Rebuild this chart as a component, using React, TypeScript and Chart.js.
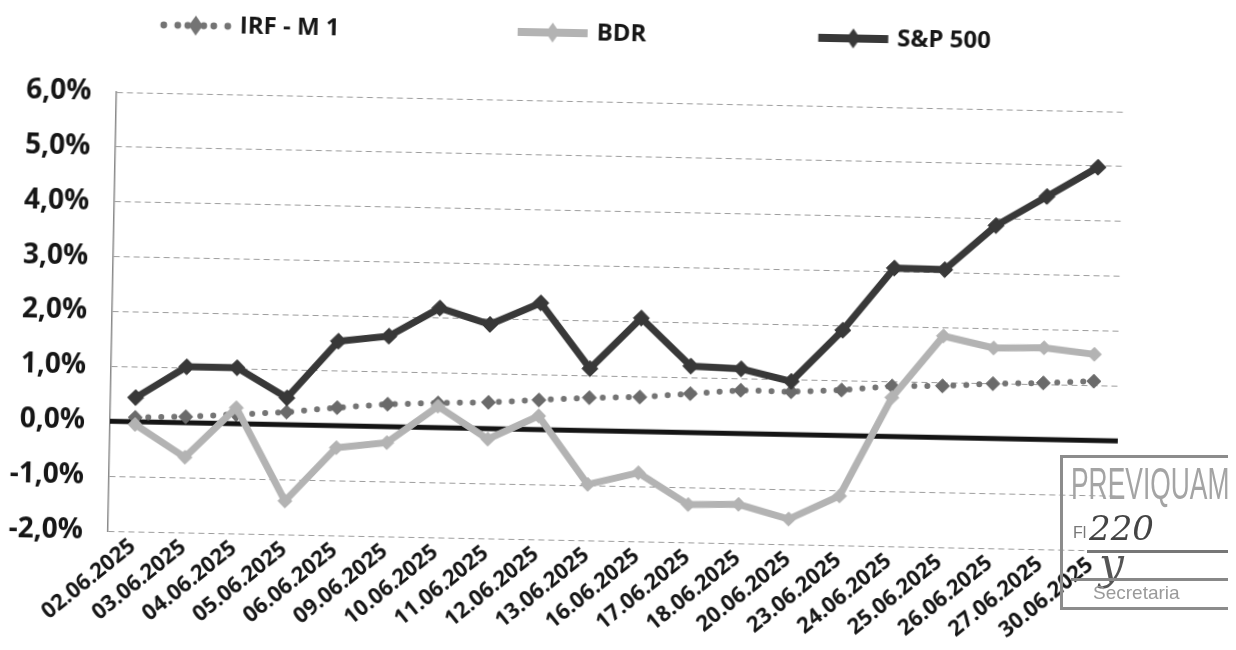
import React, { useEffect, useRef } from 'react';
import { Chart, registerables } from 'chart.js';

Chart.register(...registerables);

// ---------- data (cumulative % in June 2025) ----------
const CATEGORIES = [
  '02.06.2025', '03.06.2025', '04.06.2025', '05.06.2025', '06.06.2025',
  '09.06.2025', '10.06.2025', '11.06.2025', '12.06.2025', '13.06.2025',
  '16.06.2025', '17.06.2025', '18.06.2025', '20.06.2025', '23.06.2025',
  '24.06.2025', '25.06.2025', '26.06.2025', '27.06.2025', '30.06.2025',
];
const IRF_M1 = [0.08, 0.11, 0.17, 0.23, 0.33, 0.41, 0.45, 0.48, 0.54, 0.60, 0.63, 0.71, 0.79, 0.78, 0.83, 0.92, 0.94, 1.0, 1.03, 1.08];
const BDR = [-0.05, -0.63, 0.29, -1.39, -0.4, -0.29, 0.39, -0.19, 0.25, -0.98, -0.75, -1.31, -1.29, -1.54, -1.1, 0.71, 1.85, 1.65, 1.67, 1.57];
const SP500 = [0.44, 1.02, 1.02, 0.49, 1.54, 1.65, 2.18, 1.9, 2.31, 1.13, 2.07, 1.21, 1.18, 0.97, 1.92, 3.07, 3.06, 3.88, 4.43, 4.98];
const SERIES_LABELS = ['IRF - M 1', 'BDR', 'S&P 500'];
const Y_MIN = -2;
const Y_MAX = 6;
const Y_STEP = 1;

// ---------- styles ----------
const FONT = "'Open Sans', 'DejaVu Sans', sans-serif";
const TEXT = '#161616';
const IRF_COLOR = '#747474';
const BDR_COLOR = '#b3b3b3';
const SP_COLOR = '#383838';
const LEGEND_BOX_WIDTH = 200;
const LEGEND_SYMBOL_WIDTH = 72;
const LEGEND_TRAILING_SPACES = [5, 4, 0];
const LEGEND_EXTRA_HEIGHT = 46;
const Y_AXIS_WIDTH = 104;

function makeSymbol(kind: string, color: string): HTMLCanvasElement {
  const c = document.createElement('canvas');
  c.width = LEGEND_BOX_WIDTH + 8;
  c.height = 22;
  const g = c.getContext('2d')!;
  g.fillStyle = color;
  g.strokeStyle = color;
  const x0 = c.width - LEGEND_SYMBOL_WIDTH;
  const cy = 11;
  const cx = x0 + LEGEND_SYMBOL_WIDTH / 2;
  if (kind === 'dots') {
    for (const dx of [4, 18, 28, 44, 54, 68]) {
      g.beginPath();
      g.arc(x0 + dx, cy, 3.4, 0, Math.PI * 2);
      g.fill();
    }
  } else {
    g.lineWidth = 8;
    g.beginPath();
    g.moveTo(x0 + 1, cy);
    g.lineTo(x0 + LEGEND_SYMBOL_WIDTH - 1, cy);
    g.stroke();
  }
  g.beginPath();
  g.moveTo(cx, cy - 10);
  g.lineTo(cx + 7, cy);
  g.lineTo(cx, cy + 10);
  g.lineTo(cx - 7, cy);
  g.closePath();
  g.fill();
  return c;
}

const zeroLine = {
  id: 'zeroLine',
  beforeDatasetsDraw(chart: any) {
    const { ctx, chartArea, scales } = chart;
    const y = scales.y.getPixelForValue(0);
    ctx.save();
    ctx.strokeStyle = '#141414';
    ctx.lineWidth = 5;
    ctx.beginPath();
    ctx.moveTo(chartArea.left, y);
    ctx.lineTo(chartArea.right, y);
    ctx.stroke();
    ctx.restore();
  },
};

const legendSpacer = {
  id: 'legendSpacer',
  beforeLayout(chart: any) {
    const lg = chart.legend;
    if (lg && !lg._spacerPatched) {
      const orig = lg.fit;
      lg.fit = function fit() {
        orig.call(this);
        this.height += LEGEND_EXTRA_HEIGHT;
      };
      lg._spacerPatched = true;
    }
  },
};

export default function App() {
  const ref = useRef<HTMLCanvasElement | null>(null);

  useEffect(() => {
    if (!ref.current) return;
    const symbols = [
      makeSymbol('dots', IRF_COLOR),
      makeSymbol('line', BDR_COLOR),
      makeSymbol('line', SP_COLOR),
    ];
    const nbsp = '\u00A0';
    const chart = new Chart(ref.current, {
      type: 'line',
      data: {
        labels: CATEGORIES,
        datasets: [
          {
            label: SERIES_LABELS[0],
            data: IRF_M1,
            order: 3,
            borderColor: IRF_COLOR,
            borderWidth: 6,
            borderDash: [0, 13],
            borderCapStyle: 'round',
            pointStyle: 'rectRot',
            pointRadius: 7,
            pointBackgroundColor: '#6a6a6a',
            pointBorderColor: '#6a6a6a',
            pointBorderWidth: 1,
            tension: 0,
          },
          {
            label: SERIES_LABELS[1],
            data: BDR,
            order: 2,
            borderColor: BDR_COLOR,
            borderWidth: 7,
            pointStyle: 'rectRot',
            pointRadius: 7,
            pointBackgroundColor: BDR_COLOR,
            pointBorderColor: BDR_COLOR,
            pointBorderWidth: 1,
            tension: 0,
          },
          {
            label: SERIES_LABELS[2],
            data: SP500,
            order: 1,
            borderColor: SP_COLOR,
            borderWidth: 7,
            pointStyle: 'rectRot',
            pointRadius: 8,
            pointBackgroundColor: SP_COLOR,
            pointBorderColor: SP_COLOR,
            pointBorderWidth: 1,
            tension: 0,
          },
        ],
      },
      options: {
        responsive: false,
        animation: false,
        layout: { padding: { left: 0, right: 116, top: 0, bottom: 4 } },
        plugins: {
          tooltip: { enabled: false },
          legend: {
            position: 'top',
            align: 'start',
            labels: {
              usePointStyle: true,
              pointStyleWidth: LEGEND_BOX_WIDTH,
              padding: 14,
              color: TEXT,
              font: { family: FONT, size: 24, weight: 'bold' },
              generateLabels: (ch: any) => {
                const items = Chart.defaults.plugins.legend.labels.generateLabels(ch);
                items.sort((a: any, b: any) => a.datasetIndex - b.datasetIndex);
                return items.map((it: any) => ({
                  ...it,
                  pointStyle: symbols[it.datasetIndex],
                  text: it.text + nbsp.repeat(LEGEND_TRAILING_SPACES[it.datasetIndex] || 0),
                }));
              },
            },
          },
        },
        scales: {
          x: {
            offset: true,
            grid: { display: false, drawTicks: false },
            border: { display: false },
            ticks: {
              autoSkip: false,
              maxRotation: 40,
              minRotation: 40,
              padding: 2,
              color: TEXT,
              font: { family: FONT, size: 22, weight: 'bold' },
            },
          },
          y: {
            min: Y_MIN,
            max: Y_MAX,
            afterFit: (scale: any) => {
              scale.width = Y_AXIS_WIDTH;
            },
            grid: {
              drawTicks: false,
              lineWidth: 1,
              color: (c: any) => (c.tick && c.tick.value === 0 ? 'rgba(0,0,0,0)' : '#9c9c9c'),
            },
            border: { display: true, color: '#8a8a8a', width: 1.5, dash: [6, 4] },
            ticks: {
              stepSize: Y_STEP,
              padding: 25,
              color: TEXT,
              font: { family: FONT, size: 28, weight: 'bold' },
              callback: (v: any) => Number(v).toFixed(1).replace('.', ',') + '%',
            },
          },
        },
      },
      plugins: [zeroLine, legendSpacer],
    } as any);
    return () => chart.destroy();
  }, []);

  return (
    <div style={{ position: 'relative', width: 1228, height: 634, overflow: 'hidden', background: '#fff' }}>
      <div style={{ position: 'absolute', left: 0, top: 0, width: 1228, height: 634, transform: 'rotate(1.12deg)' }}>
        <canvas ref={ref} width={1228} height={634} />
      </div>
      <div
        style={{
          position: 'absolute', left: 1052, top: 447, width: 190, height: 155,
          border: '3px solid #8c8c8c', boxSizing: 'border-box', fontFamily: "'Liberation Sans', sans-serif",
        }}
      >
        <div style={{ position: 'absolute', left: 8, top: 4, fontSize: 44, lineHeight: '44px', color: '#a4a4a4', transform: 'scaleX(0.6)', transformOrigin: 'left top', whiteSpace: 'nowrap' }}>PREVIQUAM</div>
        <div style={{ position: 'absolute', left: 10, top: 66, fontSize: 16, color: '#777' }}>Fl</div>
        <div style={{ position: 'absolute', left: 26, top: 50, fontSize: 34, color: '#444', fontStyle: 'italic', fontFamily: "'DejaVu Serif', serif" }}>220</div>
        <div style={{ position: 'absolute', left: 24, top: 92, width: 160, borderTop: '3px solid #777' }} />
        <div style={{ position: 'absolute', left: 36, top: 80, fontSize: 44, color: '#555', fontStyle: 'italic', fontFamily: "'DejaVu Serif', serif" }}>y</div>
        <div style={{ position: 'absolute', left: 8, top: 120, width: 178, borderTop: '3px solid #888' }} />
        <div style={{ position: 'absolute', left: 30, top: 124, fontSize: 19, color: '#9a9a9a' }}>Secretaria</div>
      </div>
    </div>
  );
}
